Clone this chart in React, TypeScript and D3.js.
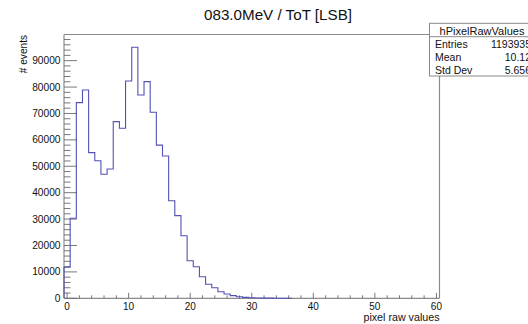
import React from "react";
import * as d3 from "d3";

const binCenters = d3.range(0, 37);
const binCounts = [
  11740, 30300, 74100, 78900, 55150, 52100, 46970, 48980, 66900, 64390,
  82300, 95080, 77000, 82050, 70450, 58000, 53900, 36970, 31290, 23710,
  14240, 11970, 8180, 5300, 4020, 2500, 1630, 1000, 600, 350,
  200, 120, 80, 50, 30, 20, 10,
];
const xTickLabels = [0, 10, 20, 30, 40, 50, 60];
const yTickLabels = [0, 10000, 20000, 30000, 40000, 50000, 60000, 70000, 80000, 90000];
const statsNames = ["Entries", "Mean", "Std Dev"];
const statsValues = ["1193935", "10.12", "5.656"];
const title = "083.0MeV / ToT [LSB]";
const histName = "hPixelRawValues";

const W = 528;
const H = 324;
const FONT = "'Liberation Sans', Arial, Helvetica, sans-serif";

export default function App() {
  const left = 64, right = 439.5, top = 34.5, bottom = 298.3;
  const x = d3.scaleLinear().domain([-0.5, 60.5]).range([left, right]);
  const y = d3.scaleLinear().domain([0, 99900]).range([bottom, top]);

  const pts: [number, number][] = [[x(binCenters[0] - 0.5), y(0)]];
  binCenters.forEach((c, i) => {
    pts.push([x(c - 0.5), y(binCounts[i])]);
    pts.push([x(c + 0.5), y(binCounts[i])]);
  });
  pts.push([x(binCenters[binCenters.length - 1] + 0.5), y(0)]);
  const path = d3.line()(pts) || "";

  const yMinor = d3.range(0, 99900, 2000);
  const xMinor = d3.range(0, 60.5, 2);

  const frame = "#8a8a8a";
  const tick = "#6a6a6a";

  return (
    <svg width={W} height={H} style={{ position: "absolute", left: 0, top: 0, background: "#fff" }} fontFamily={FONT}>
      <rect x={0} y={0} width={W} height={H} fill="#fff" />
      <text x={278} y={20} fontSize={15.2} textAnchor="middle" fill="#111">{title}</text>

      {/* frame */}
      <line x1={left} x2={right} y1={top} y2={top} stroke={frame} strokeWidth={1.2} />
      <line x1={right} x2={right} y1={top} y2={bottom} stroke={frame} strokeWidth={1.2} />
      <line x1={left} x2={left} y1={top} y2={bottom} stroke={frame} strokeWidth={1.2} />
      <line x1={left} x2={right} y1={bottom} y2={bottom} stroke={frame} strokeWidth={1.2} />

      {/* y ticks */}
      {yMinor.map((v) => {
        const major = v % 10000 === 0;
        return (
          <line key={"ym" + v} x1={left} x2={left + (major ? 13 : 6.5)} y1={y(v)} y2={y(v)} stroke={tick} strokeWidth={0.9} />
        );
      })}
      {yTickLabels.map((v) => (
        <text key={"yl" + v} x={60.5} y={y(v)} dy="0.35em" fontSize={10.2} textAnchor="end" fill="#111">{v}</text>
      ))}

      {/* x ticks */}
      {xMinor.map((v) => {
        const major = v % 10 === 0;
        return (
          <line key={"xm" + v} x1={x(v)} x2={x(v)} y1={bottom} y2={bottom - (major ? 5.5 : 3)} stroke={tick} strokeWidth={0.9} />
        );
      })}
      {xTickLabels.map((v) => (
        <text key={"xl" + v} x={x(v)} y={310} fontSize={10} textAnchor="middle" fill="#111">{v}</text>
      ))}

      <text x={right} y={320.5} fontSize={10.7} textAnchor="end" fill="#111">pixel raw values</text>
      <text transform={`translate(26.5,35) rotate(-90)`} fontSize={10.1} textAnchor="end" fill="#111"># events</text>

      {/* histogram */}
      <path d={path} fill="none" stroke="#5252b4" strokeWidth={1.1} />

      {/* stats box */}
      <rect x={429.5} y={23.3} width={110} height={52.7} fill="#fff" stroke={frame} strokeWidth={1} />
      <line x1={429.5} x2={540} y1={36.7} y2={36.7} stroke={frame} strokeWidth={1} />
      <text x={482} y={34.5} fontSize={11} textAnchor="middle" fill="#111">{histName}</text>
      {statsNames.map((n, i) => (
        <g key={n}>
          <text x={435} y={47.5 + i * 13.3} fontSize={10.5} fill="#111">{n}</text>
          <text x={531} y={47.5 + i * 13.3} fontSize={10.5} textAnchor="end" fill="#111">{statsValues[i]}</text>
        </g>
      ))}
    </svg>
  );
}
